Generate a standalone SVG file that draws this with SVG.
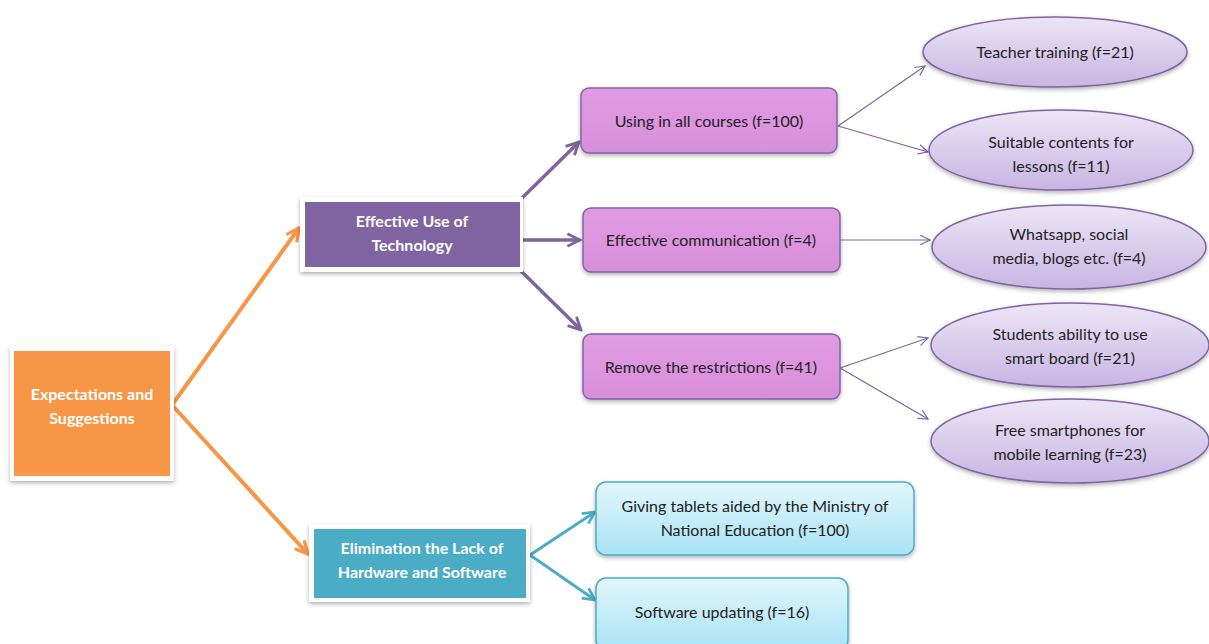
<svg xmlns="http://www.w3.org/2000/svg" width="1209" height="644" viewBox="0 0 1209 644">
<defs>
<linearGradient id="gPink" x1="0" y1="0" x2="0" y2="1"><stop offset="0" stop-color="#E09BE2"/><stop offset="1" stop-color="#D88FDB"/></linearGradient>
<linearGradient id="gBlue" x1="0" y1="0" x2="0" y2="1"><stop offset="0" stop-color="#E3F6FC"/><stop offset="1" stop-color="#A8E3F4"/></linearGradient>
<linearGradient id="gLav" x1="0" y1="0" x2="0" y2="1"><stop offset="0" stop-color="#ECE5F6"/><stop offset="1" stop-color="#C8B5E2"/></linearGradient>
<filter id="sh" x="-10%" y="-10%" width="120%" height="130%"><feDropShadow dx="0" dy="2" stdDeviation="2" flood-color="#000" flood-opacity="0.3"/></filter>
<marker id="aO" viewBox="0 0 10 10" refX="9" refY="5" markerWidth="4" markerHeight="4" orient="auto" markerUnits="strokeWidth"><path d="M1,1 L9,5 L1,9" fill="none" stroke="#F79646" stroke-width="2"/></marker>
<marker id="aP" viewBox="0 0 10 10" refX="9" refY="5" markerWidth="4.5" markerHeight="4.5" orient="auto" markerUnits="strokeWidth"><path d="M1,1 L9,5 L1,9" fill="none" stroke="#8064A2" stroke-width="1.8"/></marker>
<marker id="aT" viewBox="0 0 10 10" refX="9" refY="5" markerWidth="5" markerHeight="5" orient="auto" markerUnits="strokeWidth"><path d="M1,1 L9,5 L1,9" fill="none" stroke="#4BACC6" stroke-width="1.8"/></marker>
<marker id="aL" viewBox="0 0 10 10" refX="9" refY="5" markerWidth="10" markerHeight="10" orient="auto" markerUnits="strokeWidth"><path d="M1,1 L9,5 L1,9" fill="none" stroke="#8064A2" stroke-width="1"/></marker>
</defs>
<style>
text{font-family:Lato,"Open Sans","Liberation Sans",sans-serif;font-size:16px;text-anchor:middle;}
.h{fill:#fff;font-weight:bold;}
.b{fill:#222;}
.frame{fill:#fff;filter:url(#sh);}
.pk{fill:url(#gPink);stroke:#8064A2;stroke-width:1.5;filter:url(#sh);}
.bl{fill:url(#gBlue);stroke:#4BACC6;stroke-width:1.5;filter:url(#sh);}
.lv{fill:url(#gLav);stroke:#8064A2;stroke-width:1.5;filter:url(#sh);}
.co{stroke:#F79646;stroke-width:4;fill:none;marker-end:url(#aO);}
.cp{stroke:#8064A2;stroke-width:3.5;fill:none;marker-end:url(#aP);}
.ct{stroke:#4BACC6;stroke-width:3;fill:none;marker-end:url(#aT);}
.cl{stroke:#8064A2;stroke-width:1.2;fill:none;marker-end:url(#aL);}
</style>
<g id="connectors">
<path class="co" d="M172,405 L299,228"/>
<path class="co" d="M172,405 L308,554"/>
<path class="cp" d="M520,200 L579,142"/>
<path class="cp" d="M522,240 L580,240"/>
<path class="cp" d="M520,270 L581,330"/>
<path class="ct" d="M530,555 L595,512"/>
<path class="ct" d="M530,555 L595,600"/>
<path class="cl" d="M838,126 L925,66"/>
<path class="cl" d="M838,126 L928,152"/>
<path class="cl" d="M840,240 L930,240"/>
<path class="cl" d="M840,368 L928,338"/>
<path class="cl" d="M840,368 L928,419"/>
</g>
<g id="root">
<rect class="frame" x="10" y="346" width="164" height="135"/>
<rect x="14" y="351" width="156" height="125" fill="#F79646"/>
<text class="h" x="92" y="400">Expectations and</text>
<text class="h" x="92" y="424">Suggestions</text>
</g>
<g id="effective">
<rect class="frame" x="300" y="197" width="223" height="75"/>
<rect x="305" y="202" width="215" height="65" fill="#8064A2"/>
<text class="h" x="412" y="227">Effective Use of</text>
<text class="h" x="412" y="251">Technology</text>
</g>
<g id="elimination">
<rect class="frame" x="309" y="524" width="221" height="78"/>
<rect x="314" y="529" width="212" height="69" fill="#4BACC6"/>
<text class="h" x="422" y="554">Elimination the Lack of</text>
<text class="h" x="422" y="578">Hardware and Software</text>
</g>
<g id="using">
<rect class="pk" x="581" y="88" width="256" height="65" rx="8"/>
<text class="b" x="709" y="127">Using in all courses (f=100)</text>
</g>
<g id="communication">
<rect class="pk" x="583" y="208" width="257" height="64" rx="8"/>
<text class="b" x="711" y="246">Effective communication (f=4)</text>
</g>
<g id="remove">
<rect class="pk" x="583" y="334" width="257" height="65" rx="8"/>
<text class="b" x="711" y="373">Remove the restrictions (f=41)</text>
</g>
<g id="tablets">
<rect class="bl" x="596" y="482" width="318" height="73" rx="10"/>
<text class="b" x="755" y="512">Giving tablets aided by the Ministry of</text>
<text class="b" x="755" y="536">National Education (f=100)</text>
</g>
<g id="software">
<rect class="bl" x="596" y="578" width="252" height="72" rx="10"/>
<text class="b" x="722" y="618">Software updating (f=16)</text>
</g>
<g id="teacher">
<ellipse class="lv" cx="1055" cy="52" rx="132" ry="35"/>
<text class="b" x="1055" y="58">Teacher training (f=21)</text>
</g>
<g id="suitable">
<ellipse class="lv" cx="1061" cy="150" rx="132" ry="40"/>
<text class="b" x="1061" y="148">Suitable contents for</text>
<text class="b" x="1061" y="172">lessons (f=11)</text>
</g>
<g id="whatsapp">
<ellipse class="lv" cx="1069" cy="247" rx="137" ry="42"/>
<text class="b" x="1069" y="240">Whatsapp, social</text>
<text class="b" x="1069" y="264">media, blogs etc. (f=4)</text>
</g>
<g id="students">
<ellipse class="lv" cx="1070" cy="345" rx="139" ry="42"/>
<text class="b" x="1070" y="340">Students ability to use</text>
<text class="b" x="1070" y="364">smart board (f=21)</text>
</g>
<g id="free">
<ellipse class="lv" cx="1070" cy="441" rx="139" ry="42"/>
<text class="b" x="1070" y="436">Free smartphones for</text>
<text class="b" x="1070" y="460">mobile learning (f=23)</text>
</g>
</svg>
